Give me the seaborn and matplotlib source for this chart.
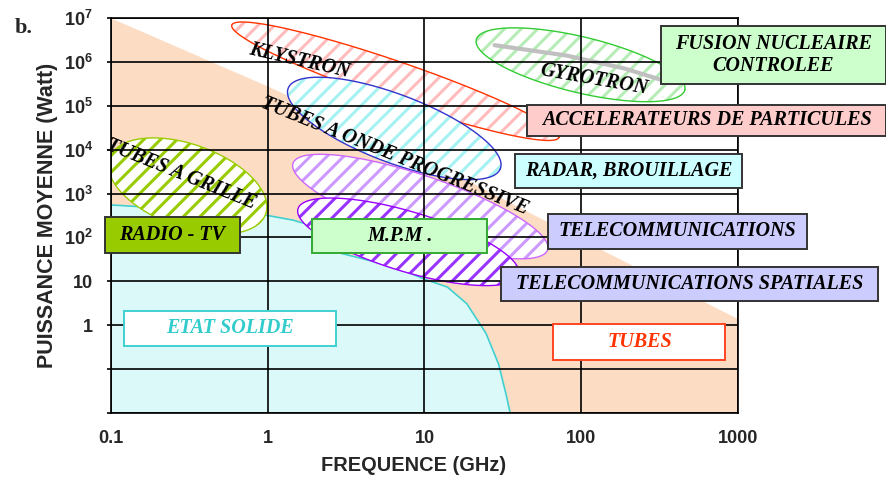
import numpy as np
import matplotlib
matplotlib.use("Agg")
import matplotlib.pyplot as plt
from matplotlib.patches import Rectangle
import seaborn as sns
import pandas as pd

# =========================================================
# DATA
# =========================================================
# upper limit of the tube domain
tube_freq = [0.1, 1, 10, 100, 1000]
tube_power = [1e7, 2.8e5, 6.5e3, 90, 1.4]

# upper limit of the solid state domain
solid_freq = [0.1, 0.88, 1.45, 1.87, 2.9, 6.4, 10, 14, 18.6, 24.7, 29.7, 33.2, 35.2]
solid_power = [550, 343, 248, 190, 44, 21.5, 11.2, 7.4, 3.1, 0.65, 0.13, 0.026, 0.01]

# device families (ellipses): ends of the long axis + width/length ratio
dev_names = ["grille", "klystron", "twt", "gyrotron", "twt_telecom", "twt_spatial"]
dev_f1 = [0.098, 0.59, 1.35, 21.4, 1.45, 1.56]
dev_p1 = [6.5e3, 6.9e6, 2.5e5, 3.2e6, 4.9e3, 450]
dev_f2 = [0.97, 72, 30.5, 458, 61, 40]
dev_p2 = [340, 1.9e4, 3.7e3, 2.3e5, 52, 14]
dev_ratio = [0.5, 0.115, 0.30, 0.26, 0.23, 0.26]

# gyrotrons for fusion (grey trace)
gyro_freq = [28, 80, 188, 316]
gyro_power = [2.4e6, 1.4e6, 7.1e5, 4.0e5]

# axes
x_ticks = [0.1, 1, 10, 100, 1000]
x_labels = ["0.1", "1", "10", "100", "1000"]
y_ticks = [1e-2, 1e-1, 1, 10, 1e2, 1e3, 1e4, 1e5, 1e6, 1e7]
y_labels = ["", "", "1", "10"] + [r"$\mathbf{10^{%d}}$" % k for k in range(2, 8)]

# labels
dev_labels = ["TUBES A GRILLE", "KLYSTRON", "TUBES A ONDE PROGRESSIVE", "GYROTRON"]
app_labels = ["FUSION NUCLEAIRE\nCONTROLEE", "ACCELERATEURS DE PARTICULES",
              "RADAR, BROUILLAGE", "TELECOMMUNICATIONS",
              "TELECOMMUNICATIONS SPATIALES", "RADIO - TV", "M.P.M .",
              "TUBES", "ETAT SOLIDE"]

# =========================================================
# STYLE
# =========================================================
sns.set_theme(style="white")
plt.rcParams["font.family"] = ["Liberation Sans", "DejaVu Sans"]
plt.rcParams["mathtext.fontset"] = "custom"
plt.rcParams["mathtext.bf"] = "Liberation Sans:bold"
plt.rcParams["mathtext.rm"] = "Liberation Sans"
plt.rcParams["hatch.linewidth"] = 2.2

SERIF = dict(family="Liberation Serif", weight="bold", style="italic")

fig = plt.figure(figsize=(8.87, 4.78), dpi=100)
ax = fig.add_axes([0.1251, 0.136, 0.7069, 0.8264])
ax.set_xscale("log")
ax.set_yscale("log")
ax.set_xlim(0.1, 1000)
ax.set_ylim(0.01, 1e7)

# domains
ax.fill_between(tube_freq, 0.01, tube_power, color="#FCDCC3", lw=0, zorder=1)
ax.fill_between(solid_freq, 0.01, solid_power, color="#DCF9F9", lw=0, zorder=1.1)
solid = pd.DataFrame({"f": solid_freq, "p": solid_power})
sns.lineplot(data=solid, x="f", y="p", sort=False, color="#40D0D0", lw=1.2,
             ax=ax, zorder=1.15)


def ellipse(f1, p1, f2, p2, ratio, n=240):
    a1 = ax.transData.transform((f1, p1))
    a2 = ax.transData.transform((f2, p2))
    c = (a1 + a2) / 2
    d = (a2 - a1) / 2
    a = np.hypot(*d)
    ang = np.arctan2(d[1], d[0])
    t = np.linspace(0, 2 * np.pi, n)
    u, v = a * np.cos(t), ratio * a * np.sin(t)
    pts = np.column_stack([c[0] + u * np.cos(ang) - v * np.sin(ang),
                           c[1] + u * np.sin(ang) + v * np.cos(ang)])
    return ax.transData.inverted().transform(pts)


stripe_cols = ["#99CC00", "#FFBCBC", "#A6F2F2", "#B6ECB6", "#CC99FF", "#9933FF"]
edge_cols = ["#99CC00", "#FF3300", "#3333CC", "#33CC33", "#CC66FF", "#9900FF"]
for i, name in enumerate(dev_names):
    pts = ellipse(dev_f1[i], dev_p1[i], dev_f2[i], dev_p2[i], dev_ratio[i])
    z = 1.2 + 0.1 * i
    ax.fill(pts[:, 0], pts[:, 1], facecolor="white", edgecolor=stripe_cols[i],
            hatch="//", lw=0, zorder=z)
    ax.plot(pts[:, 0], pts[:, 1], color=edge_cols[i], lw=1.0, zorder=z + 0.01)
    if name == "gyrotron":
        gyro = pd.DataFrame({"f": gyro_freq, "p": gyro_power})
        sns.lineplot(data=gyro, x="f", y="p", sort=False, color="#C0C0C0",
                     lw=3, ax=ax, zorder=z + 0.02)

# device names (rotated, along the ellipses)
dev_pos = [(0.28, 2.8e3, -22), (1.6, 1.05e6, -13), (6.5, 7.0e3, -22), (120, 4.0e5, -10)]
for lab, (x, y, r) in zip(dev_labels, dev_pos):
    ax.text(x, y, lab, rotation=r, rotation_mode="anchor", ha="center",
            va="center", fontsize=14.5, color="black", zorder=4, **SERIF)

# application boxes: (x0, x1, y0, y1), face, edge, text colour
box_pos = [
    (321, 8770, 3.1e5, 6.5e6, "#CCFFCC", "#333333", "black"),
    (45.3, 8770, 2.1e4, 1.05e5, "#FFCCCC", "#333333", "black"),
    (37.8, 1060, 1.32e3, 8.0e3, "#CCFFFF", "#333333", "black"),
    (61, 2750, 54.7, 343, "#CCCCFF", "#333333", "black"),
    (30.9, 7800, 3.6, 21.5, "#CCCCFF", "#333333", "black"),
    (0.091, 0.665, 44, 292, "#99CC00", "#333333", "black"),
    (1.92, 25, 44, 263, "#CCFFCC", "#33AA33", "black"),
    (66.4, 832, 0.162, 1.05, "white", "#FF4422", "#FF3300"),
    (0.121, 2.71, 0.343, 2.15, "white", "#40D0D0", "#33CCCC"),
]
for lab, (x0, x1, y0, y1, fc, ec, tc) in zip(app_labels, box_pos):
    ax.add_patch(Rectangle((x0, y0), x1 - x0, y1 - y0, facecolor=fc,
                           edgecolor=ec, lw=1.4, zorder=5, clip_on=False))
    ax.text(np.sqrt(x0 * x1), np.sqrt(y0 * y1), lab, ha="center", va="center",
            fontsize=14.5, color=tc, zorder=6, linespacing=1.1, **SERIF)

# axes, grid, ticks
ax.set_axisbelow(False)
ax.grid(True, which="major", color="black", lw=1.2)
ax.set_xticks(x_ticks, x_labels)
ax.set_yticks(y_ticks, y_labels)
ax.minorticks_off()
ax.tick_params(axis="y", length=3, width=1.2, color="black", pad=10,
               labelsize=13, direction="out", left=True)
ax.tick_params(axis="x", length=0, pad=12, labelsize=13)
for lab in ax.get_xticklabels() + ax.get_yticklabels():
    lab.set_fontweight("bold")
for sp in ax.spines.values():
    sp.set_color("black")
    sp.set_linewidth(1.2)
    sp.set_zorder(2.6)

ax.set_xlabel("FREQUENCE (GHz)", fontsize=14.4, fontweight="bold", labelpad=7)
ax.xaxis.label.set_x(0.482)
ax.set_ylabel("PUISSANCE MOYENNE (Watt)", fontsize=15.5, fontweight="bold", labelpad=4)
fig.text(0.016, 0.932, "b.", fontsize=16, fontweight="bold", family="Liberation Serif")

fig.savefig("out.png", dpi=100)
